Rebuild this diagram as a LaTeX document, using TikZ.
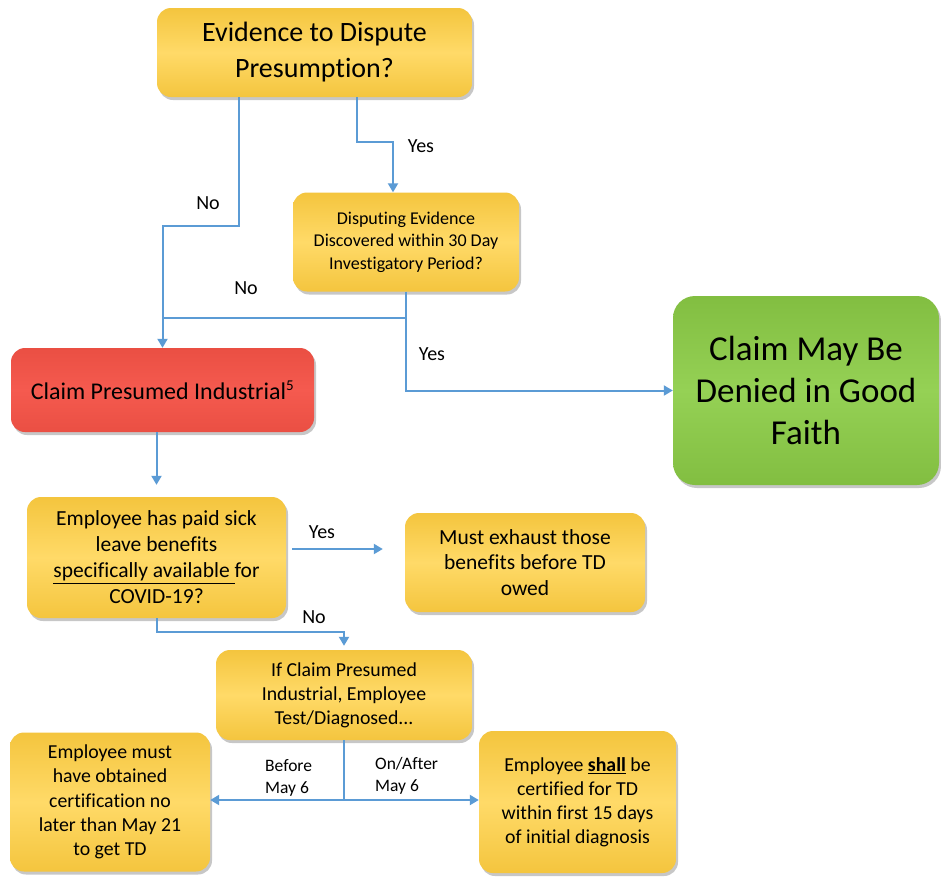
\documentclass[tikz,border=0pt]{standalone}
\usepackage{fontspec}
\setmainfont[Ligatures={NoCommon,NoRare,NoContextual}]{Carlito}
\newcommand{\nolig}{\kern0pt }
\usetikzlibrary{arrows.meta,shadows}
\definecolor{ylwmid}{HTML}{FFDA68}
\definecolor{ylwedge}{HTML}{F4C53E}
\definecolor{redmid}{HTML}{F55A4F}
\definecolor{rededge}{HTML}{EA4F43}
\definecolor{grnmid}{HTML}{95D155}
\definecolor{grnedge}{HTML}{82BE41}
\definecolor{lineblue}{HTML}{5B9BD5}
\tikzset{
  boxbase/.style={rounded corners=14pt, align=center, inner sep=2pt,
    drop shadow={shadow xshift=2pt, shadow yshift=-3pt, fill=black, opacity=0.22}},
  ybox/.style={boxbase, top color=ylwedge, bottom color=ylwedge, middle color=ylwmid},
  rbox/.style={boxbase, top color=rededge, bottom color=rededge, middle color=redmid},
  gbox/.style={boxbase, rounded corners=22pt, top color=grnedge, bottom color=grnedge, middle color=grnmid},
  ln/.style={draw=lineblue, line width=2pt},
  arr/.style={ln, -{Triangle[width=10pt,length=9pt]}},
  lbl/.style={font=\fontsize{20}{24}\selectfont, inner sep=0pt},
  slbl/.style={font=\fontsize{17.5}{22}\selectfont, inner sep=0pt, align=left, anchor=west}
}
\begin{document}
\begin{tikzpicture}[x=1pt,y=-1pt]
\useasboundingbox[fill=white] (0,0) rectangle (941,876);

% boxes
\node[ybox, minimum width=315pt, minimum height=89pt, font=\fontsize{28}{36}\selectfont] (ev) at (314.5,52.5) {Evidence to Dispute\\Presump\nolig tion?};
\node[ybox, minimum width=226pt, minimum height=99pt, font=\fontsize{18}{22.5}\selectfont] (dis) at (406,242) {Disput\nolig ing Evidence\\Discovered within 30 Day\\Invest\nolig igatory Period?};
\node[rbox, minimum width=303pt, minimum height=84pt, font=\fontsize{24}{28}\selectfont] (red) at (162.5,390) {Claim Presumed Industrial\textsuperscript{\fontsize{15}{15}\selectfont 5}};
\node[gbox, minimum width=266pt, minimum height=189pt, font=\fontsize{35}{42}\selectfont] (grn) at (806,390.5) {Claim May Be\\Denied in Good\\Faith};
\node[ybox, minimum width=259pt, minimum height=121pt, font=\fontsize{21.5}{26}\selectfont] (paid) at (156.5,557.5) {Employee has paid sick\\leave bene\nolig fits\\\underline{speci\nolig fically available }for\\COVID-19?};
\node[ybox, minimum width=240pt, minimum height=99pt, font=\fontsize{21.5}{25.5}\selectfont] (must) at (525,562.5) {Must exhaust those\\bene\nolig fits before TD\\owed};
\node[ybox, minimum width=256pt, minimum height=90pt, font=\fontsize{19.8}{24}\selectfont] (ifc) at (344,695) {If Claim Presumed\\Industrial, Employee\\Test/Diagnosed...};
\node[ybox, minimum width=200pt, minimum height=139pt, font=\fontsize{19.8}{24.2}\selectfont] (mst) at (110,802) {Employee must\\have obtained\\certi\nolig ficat\nolig ion no\\later than May 21\\to get TD};
\node[ybox, minimum width=197pt, minimum height=142pt, font=\fontsize{19.8}{24}\selectfont] (shl) at (577.5,802) {Employee \underline{\textbf{shall}} be\\certi\nolig fied for TD\\within \nolig first 15 days\\of init\nolig ial diagnosis};

% helper coordinates
\coordinate (t1) at (239,226);
\coordinate (t2) at (357,142);
\coordinate (t3) at (393,142);
\coordinate (m) at (406,318);
\coordinate (yy) at (0,549);
\coordinate (n1) at (157,632);
\coordinate (b) at (344,800);

% connectors
\draw[arr] (ev.south -| t1) -- (t1) -| (red.north);
\draw[arr] (ev.south -| t2) -- (t2) -- (t3) -- (t3 |- dis.north);
\draw[ln] (dis.south) -- (m) -- (m -| red.north);
\draw[arr] (m) |- (grn.west);
\draw[arr, shorten >=12pt] (red.south -| paid.north) -- (paid.north);
\draw[arr, shorten <=6pt, shorten >=22pt] (paid.east |- yy) -- (must.west |- yy);
\draw[arr, shorten >=4pt] (paid.south -| n1) -- (n1) -| (ifc.north);
\draw[ln] (ifc.south) -- (b);
\draw[arr] (b) -- (mst.east |- b);
\draw[arr] (b) -- (shl.west |- b);

% labels
\node[lbl] (lno1) at (208,203) {No};
\node[lbl] (lyes1) at (421,146) {Yes};
\node[lbl] (lno2) at (246,288) {No};
\node[lbl] (lyes2) at (432,354) {Yes};
\node[lbl] (lyes3) at (322,532) {Yes};
\node[lbl] (lno3) at (314,617) {No};
\node[slbl] (lbef) at (265,778) {Before\\May 6};
\node[slbl] (laft) at (375,776) {On/After\\May 6};
\end{tikzpicture}
\end{document}
